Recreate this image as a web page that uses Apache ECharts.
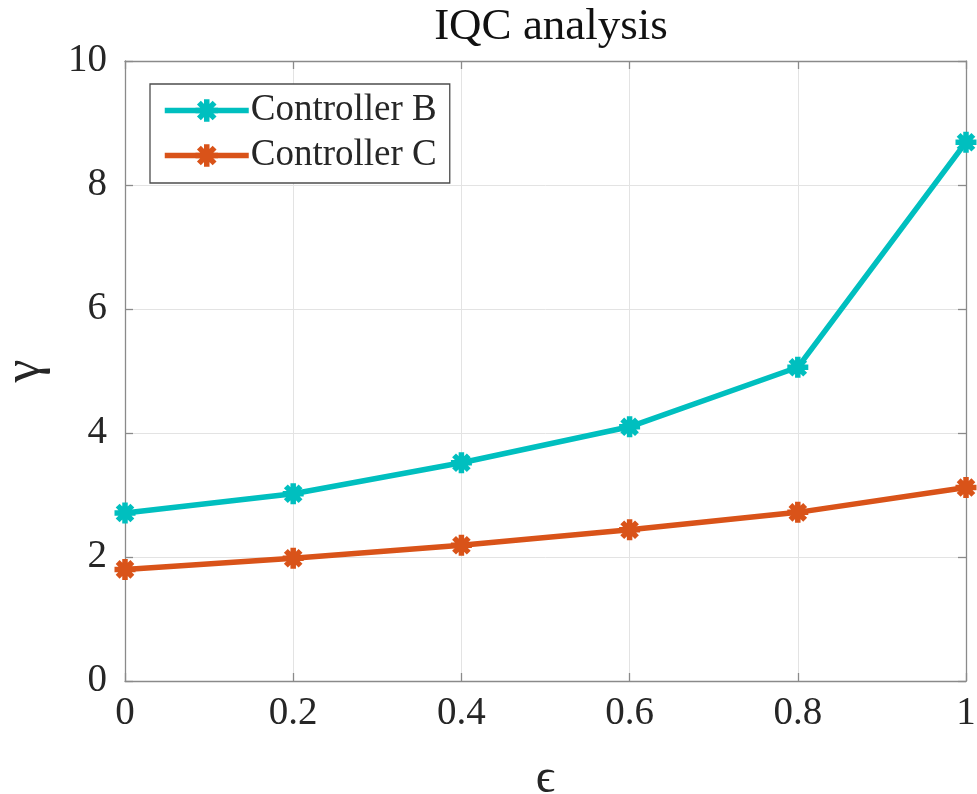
<!DOCTYPE html>
<html>
<head>
<meta charset="utf-8">
<title>IQC analysis</title>
<script src="https://cdn.jsdelivr.net/npm/echarts@6/dist/echarts.min.js"></script>
<style>
  html, body { margin: 0; padding: 0; background: #fff; }
  #chart { width: 977px; height: 794px; }
</style>
</head>
<body>
<div id="chart"></div>
<script>
// Perturbation level epsilon and the gain bound gamma found for each controller
const epsilonValues = [0, 0.2, 0.4, 0.6, 0.8, 1];
const gammaControllerB = [2.71, 3.02, 3.52, 4.10, 5.06, 8.69];
const gammaControllerC = [1.80, 1.98, 2.19, 2.44, 2.72, 3.12];
const seriesNames = ['Controller B', 'Controller C'];
const xTicks = [0, 0.2, 0.4, 0.6, 0.8, 1];
const yTicks = [0, 2, 4, 6, 8, 10];

const FONT = '"Liberation Serif", "DejaVu Serif", serif';
const TEXT = '#262626';
const AXIS = '#8a8a8a';
const GRID = '#e3e3e3';
const colors = ['#00BFBF', '#D95319'];

// eight-armed asterisk marker, drawn as strokes
const asterisk = 'path://M10,0L10,20M0,10L20,10M3,3L17,17M3,17L17,3';

function pairs(xs, ys) { return xs.map((x, i) => [x, ys[i]]); }

const chart = echarts.init(document.getElementById('chart'), null, { renderer: 'canvas' });

const baseAxis = {
  type: 'value',
  axisLine: { show: true, onZero: false, lineStyle: { color: AXIS, width: 1.3 } },
  axisTick: { show: true, inside: true, length: 8, lineStyle: { color: AXIS, width: 1.3 } },
  minorTick: { show: false }
};

function lineSeries(i, values) {
  return {
    name: seriesNames[i],
    type: 'line',
    data: pairs(epsilonValues, values),
    symbol: asterisk,
    symbolSize: 21,
    showAllSymbol: true,
    lineStyle: { color: colors[i], width: 5.5 },
    itemStyle: { color: colors[i], borderColor: colors[i], borderWidth: 5.5 },
    z: 3
  };
}

chart.setOption({
  backgroundColor: '#ffffff',
  animation: false,
  title: {
    text: 'IQC analysis',
    left: 546,
    textAlign: 'center',
    top: 0,
    textStyle: { fontFamily: FONT, fontSize: 45, fontWeight: 'normal', color: '#111' }
  },
  legend: {
    data: seriesNames.map((n, i) => ({
      name: n,
      itemStyle: { color: colors[i], borderColor: colors[i], borderWidth: 5.5 },
      lineStyle: { color: colors[i], width: 5.5 }
    })),
    orient: 'vertical',
    left: 150,
    top: 84,
    padding: [8, 13, 9, 12],
    itemGap: 8,
    itemWidth: 84,
    itemHeight: 28,
    borderColor: '#4d4d4d',
    borderWidth: 1.3,
    backgroundColor: '#fff',
    textStyle: { fontFamily: FONT, fontSize: 37, color: TEXT, padding: [0, 0, 0, -3] }
  },
  grid: { left: 125, right: 11, top: 61, bottom: 113, containLabel: false, outerBoundsMode: 'none' },
  xAxis: [
    Object.assign({}, baseAxis, {
      position: 'bottom',
      min: xTicks[0], max: xTicks[xTicks.length - 1], interval: 0.2,
      name: 'ϵ',
      nameLocation: 'middle',
      nameGap: 74,
      nameTextStyle: { fontFamily: FONT, fontSize: 48, color: TEXT },
      axisLabel: { margin: 13, fontFamily: FONT, fontSize: 39, color: TEXT },
      splitLine: { show: true, lineStyle: { color: GRID, width: 1 } }
    }),
    Object.assign({}, baseAxis, {
      position: 'top',
      min: xTicks[0], max: xTicks[xTicks.length - 1], interval: 0.2,
      axisLabel: { show: false },
      splitLine: { show: false }
    })
  ],
  yAxis: [
    Object.assign({}, baseAxis, {
      position: 'left',
      min: yTicks[0], max: yTicks[yTicks.length - 1], interval: 2,
      name: 'γ',
      nameLocation: 'middle',
      nameRotate: 90,
      nameGap: 74,
      nameTextStyle: { fontFamily: FONT, fontSize: 52, color: TEXT },
      axisLabel: { margin: 18, fontFamily: FONT, fontSize: 39, color: TEXT },
      splitLine: { show: true, lineStyle: { color: GRID, width: 1 } }
    }),
    Object.assign({}, baseAxis, {
      position: 'right',
      min: yTicks[0], max: yTicks[yTicks.length - 1], interval: 2,
      axisLabel: { show: false },
      splitLine: { show: false }
    })
  ],
  series: [
    lineSeries(0, gammaControllerB),
    lineSeries(1, gammaControllerC)
  ]
});
</script>
</body>
</html>
